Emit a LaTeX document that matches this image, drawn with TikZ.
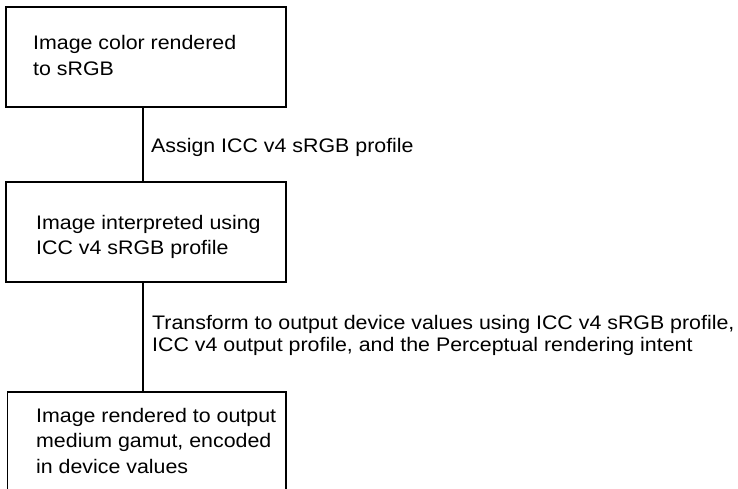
\documentclass[tikz,border=0pt]{standalone}
\usepackage{fontspec}
\setmainfont{Liberation Sans}[FakeStretch=1.09]
\begin{document}
\begin{tikzpicture}[x=1pt,y=-1pt,
  box/.style={draw=black, line width=1.6pt, minimum width=280pt, minimum height=100pt, anchor=north west, inner sep=0pt},
  boxtext/.style={anchor=north west, inner sep=0pt, align=left, font=\fontsize{19.6}{25.5}\selectfont},
  lbl/.style={anchor=north west, inner sep=0pt, align=left, font=\fontsize{19.6}{22.3}\selectfont},
  conn/.style={draw=black, line width=1.6pt}]
\useasboundingbox (0,0) rectangle (738,488);
\coordinate (cx) at (143,0);
\node[box] (b1) at (5,6) {};
\node[box] (b2) at (5,181) {};
\node[box, minimum width=278.5pt, minimum height=140pt] (b3) at (6.5,391) {};
\node[boxtext] (t1) at (33,35.5) {Image color rendered\\to sRGB};
\node[boxtext] (t2) at (36,215) {Image interpreted using\\ICC v4 sRGB profile};
\node[boxtext] (t3) at (36,408) {Image rendered to output\\medium gamut, encoded\\in device values};
\draw[conn] (b1.south -| cx) -- (b2.north -| cx);
\draw[conn] (b2.south -| cx) -- (b3.north -| cx);
\node[lbl] (l1) at (151,138) {Assign ICC v4 sRGB profile};
\node[lbl] (l2) at (152,315) {Transform to output device values using ICC v4 sRGB profile,\\ICC v4 output profile, and the Perceptual rendering intent};
\end{tikzpicture}
\end{document}
